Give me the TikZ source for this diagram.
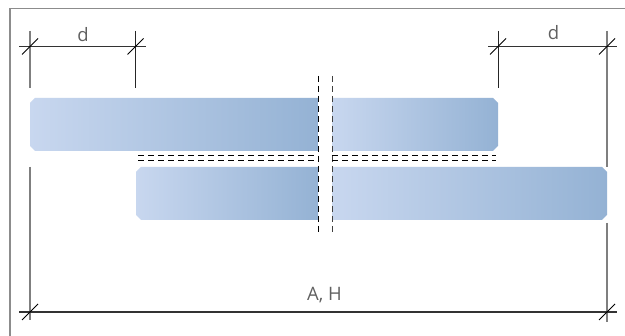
\documentclass[tikz,border=0pt]{standalone}
\usepackage{fontspec}
\setmainfont{Open Sans}
\definecolor{barL}{HTML}{C8D7EF}
\definecolor{barR}{HTML}{94B2D4}
\definecolor{frameC}{HTML}{8C8C8C}
\definecolor{extG}{HTML}{7F7F7F}
\definecolor{dimK}{HTML}{333333}
\definecolor{txtC}{HTML}{606060}
\tikzset{
  frameline/.style={draw=frameC,line width=1.2pt},
  dimline/.style={draw=dimK,line width=1.1pt},
  extline/.style={draw=extG,line width=1.7pt},
  extdark/.style={draw=black!85,line width=1pt},
  slash/.style={draw=black,line width=.8pt},
  cutline/.style={draw=black,line width=1pt,dash pattern=on 6pt off 4pt},
  bar/.style={left color=barL,right color=barR,draw=none},
  dimlabel/.style={font=\fontsize{18.5}{20}\selectfont,text=txtC,inner sep=0pt,anchor=base}
}
\newcommand{\plainleft}[4]{%
  \shade[bar] (#1+5,#2) -- (#3,#2) -- (#3,#4) -- (#1+5,#4) -- (#1,#4-5) -- (#1,#2+5) -- cycle;}
\newcommand{\plainright}[4]{%
  \shade[bar] (#1,#2) -- (#3-5,#2) -- (#3,#2+5) -- (#3,#4-5) -- (#3-5,#4) -- (#1,#4) -- cycle;}
\begin{document}
\begin{tikzpicture}[x=1pt,y=-1pt]
\useasboundingbox (0,0) rectangle (625,336);
\fill[white] (0,0) rectangle (625,336);
% frame
\coordinate (fb) at (10,336);
\coordinate (fc) at (10,8.5);
\coordinate (fr) at (625,8.5);
\draw[frameline] (fb) -- (fc) -- (fr);
% bars
\plainleft{30}{98}{318}{151}
\plainright{332}{98}{498}{151}
\plainleft{136}{167}{318}{220}
\plainright{332}{167}{607}{220}
% extension lines
\coordinate (a1) at (30,31); \coordinate (a2) at (30,88);
\coordinate (b1) at (135.5,31); \coordinate (b2) at (135.5,88);
\coordinate (c1) at (498,31); \coordinate (c2) at (498,88);
\coordinate (e1) at (607,31); \coordinate (e2) at (607,167);
\coordinate (f1) at (30,167); \coordinate (f2) at (30,320);
\coordinate (g1) at (607,223); \coordinate (g2) at (607,322);
\draw[extline] (a1) -- (a2);
\draw[extdark] (b1) -- (b2);
\draw[extdark] (c1) -- (c2);
\draw[extline] (e1) -- (e2);
\draw[extline] (f1) -- (f2);
\draw[extline] (g1) -- (g2);
% dimension lines
\coordinate (d1) at (19,46.5); \coordinate (d2) at (146,46.5);
\coordinate (d3) at (488,46.5); \coordinate (d4) at (617,46.5);
\coordinate (d5) at (19,312); \coordinate (d6) at (617,312);
\draw[dimline] (d1) -- (d2);
\draw[dimline] (d3) -- (d4);
\draw[dimline] (d5) -- (d6);
% slashes
\foreach \sx/\sy in {30/46.5,135.5/46.5,498/46.5,607/46.5,30/312,607/312}
  \draw[slash] (\sx-8,\sy+8) -- (\sx+8,\sy-8);
% labels
\node[dimlabel] (l1) at (83,41.5) {d};
\node[dimlabel] (l2) at (553.5,40) {d};
\node[dimlabel] (l3) at (324.5,300.5) {A, H};
% cut lines
\coordinate (v1t) at (318.5,76); \coordinate (v1b) at (318.5,234);
\coordinate (v2t) at (332,76); \coordinate (v2b) at (332,234);
\draw[cutline] (v1t) -- (v1b);
\draw[cutline,draw=black!75] (v2t) -- (v2b);
\coordinate (h1l) at (138,156); \coordinate (h1m) at (314,156);
\coordinate (h1n) at (332,156); \coordinate (h1r) at (496,156);
\coordinate (h2l) at (138,160.5); \coordinate (h2m) at (314,160.5);
\coordinate (h2n) at (332,160.5); \coordinate (h2r) at (496,160.5);
\draw[cutline] (h1l) -- (h1m);
\draw[cutline] (h1n) -- (h1r);
\draw[cutline] (h2l) -- (h2m);
\draw[cutline] (h2n) -- (h2r);
\end{tikzpicture}
\end{document}
